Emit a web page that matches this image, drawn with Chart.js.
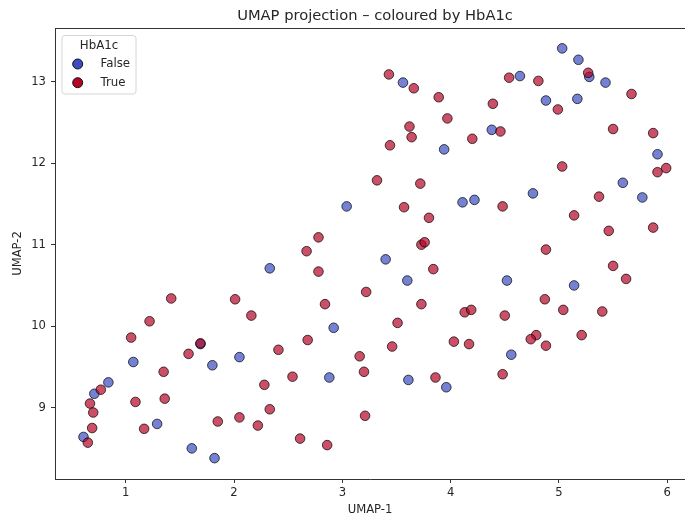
<!DOCTYPE html>
<html>
<head>
<meta charset="utf-8">
<script src="https://cdn.jsdelivr.net/npm/chart.js@4/dist/chart.umd.min.js"></script>
<style>
html, body { margin: 0; padding: 0; background: #fff; }
canvas { display: block; }
</style>
</head>
<body>
<canvas id="umapChart" width="685" height="518"></canvas>
<script>
const TITLE = 'UMAP projection \u2013 coloured by HbA1c';
const LEGEND_TITLE = 'HbA1c';
const groups = ['False', 'True'];
const xTicks = [1, 2, 3, 4, 5, 6];
const yTicks = [9, 10, 11, 12, 13];

// HbA1c = False
const falseX = [3.56, 3.94, 5.03, 5.18, 5.28, 4.64, 5.43, 4.88, 5.17, 4.38, 5.91, 5.59, 3.04, 4.11, 4.22, 3.40, 2.33, 3.60, 2.92,
    4.76, 5.77, 4.52, 5.14, 1.69, 1.07, 1.80, 2.05, 0.84, 0.71, 1.29, 0.61, 1.61, 1.82, 2.88, 3.61, 3.96, 4.56];
const falseY = [12.99, 12.17, 13.41, 13.27, 13.06, 13.07, 12.99, 12.77, 12.79, 12.41, 12.11, 11.76, 11.47, 11.52, 11.55, 10.82, 10.71, 10.56, 9.98,
    11.63, 11.58, 10.56, 10.50, 9.78, 9.56, 9.52, 9.62, 9.31, 9.17, 8.80, 8.64, 8.50, 8.38, 9.37, 9.34, 9.25, 9.65];

// HbA1c = True
const trueX = [3.43, 3.66, 3.89, 3.97, 3.62, 3.64, 3.44, 4.20, 3.32, 3.72, 5.27, 4.54, 4.81, 5.67, 4.39, 4.99, 4.46, 5.50, 5.87, 5.99,
    5.91, 5.03, 3.57, 3.80, 2.78, 2.67, 3.73, 3.76, 2.78, 3.84, 3.22, 2.84, 3.73, 4.13, 4.19, 3.51, 2.68, 4.03, 4.48, 5.37,
    5.14, 5.46, 5.87, 4.88, 5.50, 5.62, 4.87, 5.04, 5.40, 4.50, 4.79, 4.74, 5.21, 1.42, 2.01, 2.16, 1.22, 1.05, 1.69, 1.58,
    1.35, 2.28, 0.77, 1.09, 1.36, 0.67, 0.70, 2.33, 1.85, 2.05, 2.22, 1.17, 0.69, 0.65, 2.41, 3.46, 3.16, 3.20, 4.17, 2.54,
    3.86, 3.21, 2.61, 2.86, 4.88, 4.48];
const trueY = [13.09, 12.92, 12.81, 12.55, 12.45, 12.32, 12.22, 12.30, 11.79, 11.75, 13.11, 13.05, 13.01, 12.85, 12.73, 12.66, 12.39, 12.42, 12.37, 11.94,
    11.89, 11.96, 11.46, 11.33, 11.09, 10.92, 11.00, 11.03, 10.67, 10.70, 10.42, 10.27, 10.27, 10.17, 10.20, 10.04, 9.83, 9.81, 11.47, 11.59,
    11.36, 11.17, 11.21, 10.94, 10.74, 10.58, 10.33, 10.20, 10.18, 10.13, 9.89, 9.84, 9.89, 10.34, 10.33, 10.13, 10.06, 9.86, 9.79, 9.66,
    9.44, 9.28, 9.22, 9.07, 9.11, 9.05, 8.94, 8.98, 8.83, 8.88, 8.78, 8.74, 8.75, 8.57, 9.71, 9.75, 9.63, 9.44, 9.78, 9.38,
    9.37, 8.90, 8.62, 8.54, 9.76, 9.41];

const FONT = 'DejaVu Sans';
const TEXT = '#262626';
const AXIS = '#333';
const solid = ['#3b4cc0', '#b40426'];
const faded = ['rgba(59,76,192,0.7)', 'rgba(180,4,38,0.7)'];

const toPoints = (xs, ys) => xs.map((x, i) => ({ x: x, y: ys[i] }));

// top spine, title and boxed legend (the figure is cropped on the right, so no right spine)
const decorations = {
    id: 'decorations',
    afterDraw(chart) {
        const ctx = chart.ctx;
        const a = chart.chartArea;
        ctx.save();
        ctx.strokeStyle = AXIS;
        ctx.lineWidth = 1;
        ctx.beginPath();
        ctx.moveTo(Math.round(a.left), Math.round(a.top) + 0.5);
        ctx.lineTo(a.right, Math.round(a.top) + 0.5);
        ctx.stroke();

        ctx.fillStyle = TEXT;
        ctx.font = '14.7px "' + FONT + '"';
        ctx.textAlign = 'center';
        ctx.textBaseline = 'middle';
        ctx.fillText(TITLE, 375, 16.5);

        // legend box
        const bx = 62, by = 35.5, bw = 74, bh = 58.5, r = 3;
        ctx.beginPath();
        ctx.moveTo(bx + r, by);
        ctx.arcTo(bx + bw, by, bx + bw, by + bh, r);
        ctx.arcTo(bx + bw, by + bh, bx, by + bh, r);
        ctx.arcTo(bx, by + bh, bx, by, r);
        ctx.arcTo(bx, by, bx + bw, by, r);
        ctx.closePath();
        ctx.fillStyle = 'rgba(255,255,255,0.8)';
        ctx.fill();
        ctx.strokeStyle = '#d6d6d6';
        ctx.stroke();

        ctx.font = '11.8px "' + FONT + '"';
        ctx.fillStyle = TEXT;
        ctx.fillText(LEGEND_TITLE, bx + bw / 2, 45.5);
        chart.data.datasets.forEach((ds, i) => {
            const y = 64 + i * 18.7;
            ctx.beginPath();
            ctx.arc(77.7, y, 5, 0, Math.PI * 2);
            ctx.fillStyle = solid[i];
            ctx.fill();
            ctx.strokeStyle = '#111';
            ctx.stroke();
            ctx.fillStyle = TEXT;
            ctx.textAlign = 'left';
            ctx.fillText(ds.label, 100.5, y);
            ctx.textAlign = 'center';
        });
        ctx.restore();
    }
};

const tickFont = { family: FONT, size: 11.6 };

new Chart(document.getElementById('umapChart'), {
    type: 'scatter',
    data: {
        datasets: [
            { label: groups[0], data: toPoints(falseX, falseY), backgroundColor: faded[0], borderColor: 'rgba(0,0,0,0.7)',
              borderWidth: 1, pointRadius: 4.8, pointHoverRadius: 4.8, order: 2 },
            { label: groups[1], data: toPoints(trueX, trueY), backgroundColor: faded[1], borderColor: 'rgba(0,0,0,0.7)',
              borderWidth: 1, pointRadius: 4.8, pointHoverRadius: 4.8, order: 1 }
        ]
    },
    options: {
        responsive: false,
        devicePixelRatio: 1,
        animation: false,
        layout: { autoPadding: false, padding: { top: 28, right: 0, bottom: 0, left: 0 } },
        plugins: { legend: { display: false }, tooltip: { enabled: false }, title: { display: false } },
        scales: {
            x: {
                type: 'linear', min: 0.347, max: 6.164,
                afterBuildTicks: s => { s.ticks = xTicks.map(v => ({ value: v })); },
                afterFit: s => { s.height = 39; s.paddingLeft = 0; s.paddingRight = 0; },
                grid: { display: true, drawOnChartArea: false, drawTicks: true, tickLength: 4, color: AXIS },
                border: { display: true, color: AXIS, width: 1 },
                ticks: { color: TEXT, font: tickFont, padding: 3, maxRotation: 0 },
                title: { display: true, text: 'UMAP-1', color: TEXT, font: tickFont, padding: { top: 0, bottom: 1 } }
            },
            y: {
                type: 'linear', min: 8.124, max: 13.66,
                afterBuildTicks: s => { s.ticks = yTicks.map(v => ({ value: v })); },
                afterFit: s => { s.width = 55; s.paddingTop = 0; s.paddingBottom = 0; },
                grid: { display: true, drawOnChartArea: false, drawTicks: true, tickLength: 4, color: AXIS },
                border: { display: true, color: AXIS, width: 1 },
                ticks: { color: TEXT, font: tickFont, padding: 5 },
                title: { display: true, text: 'UMAP-2', color: TEXT, font: tickFont, padding: { top: 11, bottom: 0 } }
            }
        }
    },
    plugins: [decorations]
});
</script>
</body>
</html>
